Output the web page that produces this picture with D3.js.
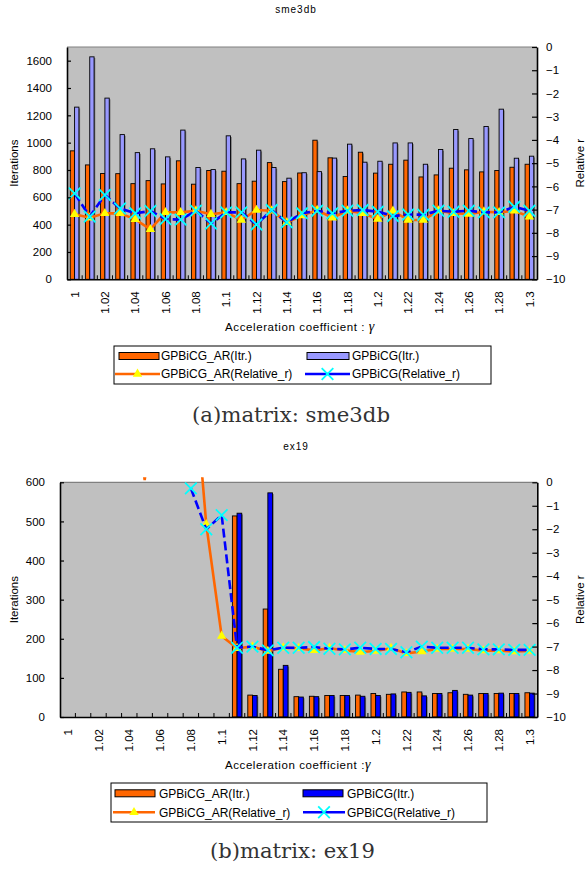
<!DOCTYPE html>
<html>
<head>
<meta charset="utf-8">
<script src="https://cdn.jsdelivr.net/npm/d3@7"></script>
<style>
  html, body { margin: 0; padding: 0; background: #fff; }
  svg { display: block; font-family: "Liberation Sans", Arial, sans-serif; }
</style>
</head>
<body>
<svg id="chart" width="586" height="869"></svg>
<script>
// Acceleration coefficient γ (x categories)
const categories = ["1","1.01","1.02","1.03","1.04","1.05","1.06","1.07","1.08","1.09",
  "1.1","1.11","1.12","1.13","1.14","1.15","1.16","1.17","1.18","1.19",
  "1.2","1.21","1.22","1.23","1.24","1.25","1.26","1.27","1.28","1.29","1.3"];
const xTickLabels = ["1","1.02","1.04","1.06","1.08","1.1","1.12","1.14","1.16","1.18",
  "1.2","1.22","1.24","1.26","1.28","1.3"];
const relTicks = [0,-1,-2,-3,-4,-5,-6,-7,-8,-9,-10];

// matrix sme3db
const smeItrTicks = [0,200,400,600,800,1000,1200,1400,1600];
const smeArItr = [940,837,774,773,700,722,698,867,696,796,791,700,718,854,715,778,
  1018,889,752,930,777,842,872,749,764,813,801,786,796,820,842];
const smeBicgItr = [1260,1628,1326,1059,927,955,896,1092,818,803,1050,881,945,818,740,780,
  788,887,989,857,864,998,998,842,950,1096,1030,1118,1245,886,901];
const smeArRel = [-7.2,-7.35,-7.16,-7.16,-7.42,-7.85,-7.12,-7.12,-7.05,-7.2,-7.12,-7.45,-7.02,-7.05,-7.55,
  -7.26,-7.02,-7.35,-7.05,-7.16,-7.41,-7.06,-7.45,-7.45,-7.05,-7.16,-7.19,-7.09,-7.12,-7.05,-7.31];
const smeBicgRel = [-6.3,-7.3,-6.37,-6.95,-7.16,-7.06,-7.41,-7.43,-7.05,-7.6,-7.12,-7.12,-7.64,-7.02,-7.55,
  -7.16,-7.05,-7.16,-7.05,-7.02,-7.09,-7.28,-7.21,-7.22,-7.05,-7.09,-7.05,-7.12,-7.12,-6.88,-7.05];

// matrix ex19 (null = no convergence, nothing plotted)
const exItrTicks = [0,100,200,300,400,500,600];
const exArItr = [null,null,null,null,null,null,null,null,null,null,null,
  514,56,276,122,52,53,55,55,56,60,58,64,64,60,62,58,60,60,60,62];
const exBicgItr = [null,null,null,null,null,null,null,null,null,null,null,
  521,55,573,132,51,52,55,55,53,55,59,63,54,60,68,56,60,61,60,61];
const exArRel = [null,null,null,null,5.0,0.1,5.0,5.0,6.0,-1.79,-6.55,
  -7.07,-7.0,-7.19,-7.05,-7.07,-7.16,-7.07,-7.16,-7.23,-7.19,-7.07,-7.29,-7.21,-7.1,-7.1,-7.1,-7.17,-7.17,-7.21,-7.19];
const exBicgRel = [null,null,null,null,null,null,null,null,-0.26,-2.0,-1.4,
  -7.05,-7.0,-7.16,-7.05,-7.05,-7.02,-7.09,-7.12,-7.05,-7.1,-7.1,-7.24,-7.0,-7.05,-7.05,-7.05,-7.12,-7.12,-7.14,-7.14];

const seriesNames = ["GPBiCG_AR(Itr.)","GPBiCG(Itr.)","GPBiCG_AR(Relative_r)","GPBiCG(Relative_r)"];

const ORANGE = "#FF6600", YELLOW = "#FFFF00", CYAN = "#00FFFF", BLUE = "#0000FF";
const svg = d3.select("#chart");
const defs = svg.append("defs");

function drawPanel(p, idx) {
  const g = svg.append("g");
  const x = d3.scaleBand().domain(categories).range([p.left, p.right]);
  const inner = d3.scaleBand().domain(["ar","bicg"]).range([0, x.bandwidth()])
    .paddingInner(0).paddingOuter(p.gap / 2);
  const y = d3.scaleLinear().domain([0, p.yMax]).range([p.bottom, p.top]);
  const y2 = d3.scaleLinear().domain([-10, 0]).range([p.bottom, p.top]);

  // chart title
  g.append("text").attr("x", p.titleX).attr("y", p.titleY)
    .attr("text-anchor", "middle").attr("font-size", 10).attr("letter-spacing", 1)
    .text(p.title);

  // plot area
  g.append("rect").attr("x", p.left).attr("y", p.top)
    .attr("width", p.right - p.left).attr("height", p.bottom - p.top)
    .attr("fill", "#C0C0C0");

  // bars
  const barSets = [
    {key: "ar", vals: p.arItr, fill: ORANGE},
    {key: "bicg", vals: p.bicgItr, fill: p.bicgFill}
  ];
  barSets.forEach(s => {
    const data = categories.map((c, i) => ({c, v: s.vals[i]})).filter(d => d.v != null);
    g.append("g").selectAll("rect").data(data).join("rect")
      .attr("x", d => x(d.c) + inner(s.key) + 1.2)
      .attr("y", d => y(d.v) + 1.2)
      .attr("width", inner.bandwidth())
      .attr("height", d => Math.max(0, y(0) - y(d.v) - 1.2))
      .attr("fill", "#505050").attr("opacity", 0.7);
    g.append("g").selectAll("rect").data(data).join("rect")
      .attr("x", d => x(d.c) + inner(s.key))
      .attr("y", d => y(d.v))
      .attr("width", inner.bandwidth())
      .attr("height", d => y(0) - y(d.v))
      .attr("fill", s.fill).attr("stroke", "#000").attr("stroke-width", 0.9);
  });

  // top border of plot area
  g.append("line").attr("x1", p.left).attr("x2", p.right)
    .attr("y1", p.top).attr("y2", p.top).attr("stroke", "#808080").attr("stroke-width", 1.2);

  // relative residual lines, clipped a little above the plot top
  const clipId = "clip" + idx;
  defs.append("clipPath").attr("id", clipId).append("rect")
    .attr("x", p.left).attr("y", p.top - 5)
    .attr("width", p.right - p.left).attr("height", p.bottom - p.top + 5);

  const lineGen = d3.line()
    .defined(d => d.v != null)
    .x(d => x(d.c) + x.bandwidth() / 2)
    .y(d => y2(d.v));

  const lineSets = [
    {vals: p.arRel, color: ORANGE, dash: null, marker: "tri"},
    {vals: p.bicgRel, color: BLUE, dash: "9,4", marker: "x"}
  ];
  lineSets.forEach(s => {
    const data = categories.map((c, i) => ({c, v: s.vals[i]}));
    g.append("path").datum(data)
      .attr("clip-path", `url(#${clipId})`)
      .attr("d", lineGen).attr("fill", "none")
      .attr("stroke", s.color).attr("stroke-width", 2.6)
      .attr("stroke-dasharray", s.dash);
    const pts = data.filter(d => d.v != null && d.v <= 0 && d.v >= -10);
    const sym = s.marker === "tri"
      ? d3.symbol(d3.symbolTriangle, 38) : d3.symbol(d3.symbolTimes, 90);
    g.append("g").selectAll("path").data(pts).join("path")
      .attr("transform", d => `translate(${x(d.c) + x.bandwidth() / 2},${y2(d.v)})`)
      .attr("d", sym)
      .attr("fill", s.marker === "tri" ? YELLOW : "none")
      .attr("stroke", s.marker === "tri" ? "none" : CYAN)
      .attr("stroke-width", 1.8);
  });

  // category boundary ticks
  g.append("g").selectAll("line").data(categories.slice(1)).join("line")
    .attr("x1", d => x(d)).attr("x2", d => x(d))
    .attr("y1", p.bottom).attr("y2", p.bottom - 4)
    .attr("stroke", "#000").attr("stroke-width", 1);

  // left axis
  const la = g.append("g").attr("transform", `translate(${p.left},0)`)
    .call(d3.axisLeft(y).tickValues(p.yTicks).tickFormat(d3.format("d"))
      .tickSize(-4).tickSizeOuter(0).tickPadding(15));
  // right axis
  const ra = g.append("g").attr("transform", `translate(${p.right},0)`)
    .call(d3.axisRight(y2).tickValues(relTicks).tickSize(-5).tickSizeOuter(0).tickPadding(9));
  // bottom axis with rotated labels
  const ba = g.append("g").attr("transform", `translate(0,${p.bottom})`)
    .call(d3.axisBottom(x).tickValues(xTickLabels).tickSize(0).tickSizeOuter(0));
  ba.selectAll("text")
    .attr("transform", "rotate(-90)")
    .attr("text-anchor", "end")
    .attr("x", -12).attr("y", 0).attr("dy", "0.36em");

  [la, ra, ba].forEach(a => {
    a.selectAll(".domain").attr("stroke", "#000").attr("stroke-width", 1.6);
    a.selectAll(".tick line").attr("stroke", "#000").attr("stroke-width", 1.2);
    a.selectAll("text").attr("font-size", 11.5).attr("fill", "#000")
      .attr("font-family", "'Liberation Sans', Arial, sans-serif");
  });

  // axis titles
  const midY = (p.top + p.bottom) / 2;
  g.append("text").attr("transform", `translate(18,${midY}) rotate(-90)`)
    .attr("text-anchor", "middle").attr("font-size", 11.5).text("Iterations");
  g.append("text").attr("transform", `translate(584,${midY}) rotate(-90)`)
    .attr("text-anchor", "middle").attr("font-size", 11.5).text("Relative r");
  const xt = g.append("text").attr("x", p.xTitleX).attr("y", p.xTitleY)
    .attr("text-anchor", "middle").attr("font-size", 11.5).attr("letter-spacing", 0.6);
  xt.append("tspan").text(p.xTitle);
  xt.append("tspan").attr("font-family", "'Liberation Serif', serif").attr("font-style", "italic")
    .attr("font-size", 14).text("γ");

  // legend
  const L = p.legend;
  g.append("rect").attr("x", L.x0).attr("y", L.y0)
    .attr("width", L.x1 - L.x0).attr("height", L.y1 - L.y0)
    .attr("fill", "#fff").attr("stroke", "#000").attr("stroke-width", 1);
  // bar swatches
  [[L.c1, ORANGE, seriesNames[0]], [L.c2, p.bicgFill, seriesNames[1]]].forEach(([c, fill, name]) => {
    g.append("rect").attr("x", c.rx0).attr("y", L.r1 - 3.5)
      .attr("width", c.rx1 - c.rx0).attr("height", 7)
      .attr("fill", fill).attr("stroke", "#000").attr("stroke-width", 1);
    g.append("text").attr("x", c.tx).attr("y", L.r1).attr("dy", "0.36em")
      .attr("font-size", 12).text(name);
  });
  // line swatches
  [[L.c1, ORANGE, "tri", seriesNames[2]], [L.c2, BLUE, "x", seriesNames[3]]].forEach(([c, col, mk, name]) => {
    g.append("line").attr("x1", c.lx0).attr("x2", c.lx1).attr("y1", L.r2).attr("y2", L.r2)
      .attr("stroke", col).attr("stroke-width", 2.6);
    const sym = mk === "tri" ? d3.symbol(d3.symbolTriangle, 38) : d3.symbol(d3.symbolTimes, 90);
    g.append("path").attr("transform", `translate(${(c.lx0 + c.lx1) / 2},${L.r2})`)
      .attr("d", sym)
      .attr("fill", mk === "tri" ? YELLOW : "none")
      .attr("stroke", mk === "tri" ? "none" : CYAN).attr("stroke-width", 1.8);
    g.append("text").attr("x", c.tx).attr("y", L.r2).attr("dy", "0.36em")
      .attr("font-size", 12).text(name);
  });

  // caption
  g.append("text").attr("x", p.capX).attr("y", p.capY)
    .attr("text-anchor", "middle")
    .attr("font-family", "'DejaVu Serif', serif")
    .attr("font-size", 19.5).attr("fill", "#333")
    .attr("textLength", p.capLen).attr("lengthAdjust", "spacingAndGlyphs")
    .text(p.caption);
}

drawPanel({
  title: "sme3db", titleX: 296, titleY: 12.5,
  left: 67, right: 537, top: 47, bottom: 279.3, gap: 1.5,
  yMax: 1700, yTicks: smeItrTicks,
  arItr: smeArItr, bicgItr: smeBicgItr, arRel: smeArRel, bicgRel: smeBicgRel,
  bicgFill: "#9999FF",
  xTitle: "Acceleration coefficient : ", xTitleX: 300, xTitleY: 331,
  legend: {x0: 114, y0: 346, x1: 491, y1: 384, r1: 356, r2: 374,
    c1: {rx0: 119, rx1: 159, lx0: 115, lx1: 160, tx: 161},
    c2: {rx0: 307, rx1: 349, lx0: 305, lx1: 350, tx: 352}},
  caption: "(a)matrix: sme3db", capX: 291, capY: 421.5, capLen: 198
}, 0);

drawPanel({
  title: "ex19", titleX: 296, titleY: 450,
  left: 60, right: 537.3, top: 482.3, bottom: 717, gap: 1.3,
  yMax: 600, yTicks: exItrTicks,
  arItr: exArItr, bicgItr: exBicgItr, arRel: exArRel, bicgRel: exBicgRel,
  bicgFill: BLUE,
  xTitle: "Acceleration coefficient :", xTitleX: 298, xTitleY: 769,
  legend: {x0: 111, y0: 783, x1: 487, y1: 822, r1: 793.3, r2: 812.3,
    c1: {rx0: 115, rx1: 155, lx0: 113, lx1: 155, tx: 159},
    c2: {rx0: 303, rx1: 343, lx0: 303, lx1: 345, tx: 347}},
  caption: "(b)matrix: ex19", capX: 292.5, capY: 858, capLen: 165
}, 1);
</script>
</body>
</html>
